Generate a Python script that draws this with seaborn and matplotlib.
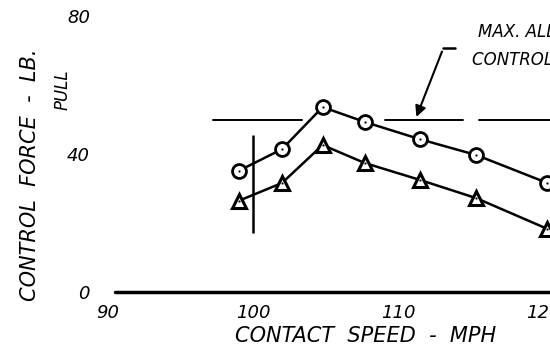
import matplotlib
matplotlib.use("Agg")
import matplotlib.pyplot as plt
import seaborn as sns
import pandas as pd

# podatki odčitani s slike
speed = [99.0, 102.0, 104.8, 107.7, 111.5, 115.4, 120.3]
force_circle = [35.1, 41.4, 53.6, 49.3, 44.3, 39.7, 31.6]
force_triangle = [26.4, 31.6, 42.6, 37.4, 32.5, 27.2, 18.3]
max_force = 50
ref_speed = 100
ref_low, ref_high = 17, 45.5
arrow_tip = (111.2, 50)
x_ticks = [90, 100, 110, 120]
y_ticks = [0, 40, 80]

df = pd.DataFrame({"speed": speed, "circle": force_circle, "triangle": force_triangle})

sns.set_style("white")
plt.rcParams["font.family"] = ["DejaVu Sans"]
plt.rcParams["font.style"] = "italic"
plt.rcParams["text.color"] = "black"
plt.rcParams["xtick.color"] = "black"
plt.rcParams["ytick.color"] = "black"

W, H = 550, 362
fig = plt.figure(figsize=(W / 100, H / 100), dpi=100)
ax = fig.add_axes([108 / W, 1 - 292 / H, (W - 108) / W, (292 - 16) / H])

# krivulji
sns.lineplot(data=df, x="speed", y="circle", ax=ax, color="k", lw=1.8,
             marker="o", markersize=10, markerfacecolor="white",
             markeredgecolor="k", markeredgewidth=2)
sns.lineplot(data=df, x="speed", y="triangle", ax=ax, color="k", lw=1.8,
             marker="^", markersize=10, markerfacecolor="white",
             markeredgecolor="k", markeredgewidth=2.2)
sns.scatterplot(data=df, x="speed", y="circle", ax=ax, color="k", s=3, zorder=5)
sns.scatterplot(data=df, x="speed", y="triangle", ax=ax, color="k", s=3, zorder=5)

# meja največje sile (črtkana)
for a, b in [(0.238, 0.439), (0.627, 0.803), (0.839, 1.0)]:
    ax.axhline(max_force, xmin=a, xmax=b, color="k", lw=1.4)

ax.vlines(ref_speed, ref_low, ref_high, color="k", lw=1.8)
ax.axhline(0, xmin=0.016, xmax=1, color="k", lw=2.5, clip_on=False)

ax.set_xlim(90, 90 + (W - 108) / 14.5)
ax.set_ylim(0, 80)
ax.set_xticks(x_ticks)
ax.set_xticklabels([str(v) for v in x_ticks], fontsize=13, style="italic")
ax.set_yticks(y_ticks)
ax.set_yticklabels([str(v) for v in y_ticks], fontsize=13, style="italic")
ax.tick_params(axis="x", length=0, pad=9)
ax.tick_params(axis="y", length=0, pad=13)
ax.set_xlabel("")
ax.set_ylabel("")
for s in ax.spines.values():
    s.set_visible(False)

# puščica do meje
ax.annotate("", xy=arrow_tip, xycoords="data",
            xytext=(443 / W, 1 - 49 / H), textcoords="figure fraction",
            arrowprops=dict(arrowstyle="-|>", lw=1.5, color="k", mutation_scale=16))
fig.add_artist(plt.Line2D([443 / W, 455 / W], [1 - 48 / H, 1 - 48 / H], color="k", lw=1.8))

fig.text(478 / W, 1 - 32 / H, "MAX. ALLOWABLE", fontsize=12, va="center", ha="left")
fig.text(472 / W, 1 - 60 / H, "CONTROL FORCE", fontsize=12, va="center", ha="left")

fig.text(30 / W, 1 - 175 / H, "CONTROL  FORCE  -  LB.", fontsize=15, rotation=90,
         va="center", ha="center")
fig.text(63 / W, 1 - 90 / H, "PULL", fontsize=12, rotation=90, va="center", ha="center")
fig.text(235 / W, 1 - 336 / H, "CONTACT  SPEED  -  MPH", fontsize=15, va="center", ha="left")

fig.savefig("out.png", dpi=100)
